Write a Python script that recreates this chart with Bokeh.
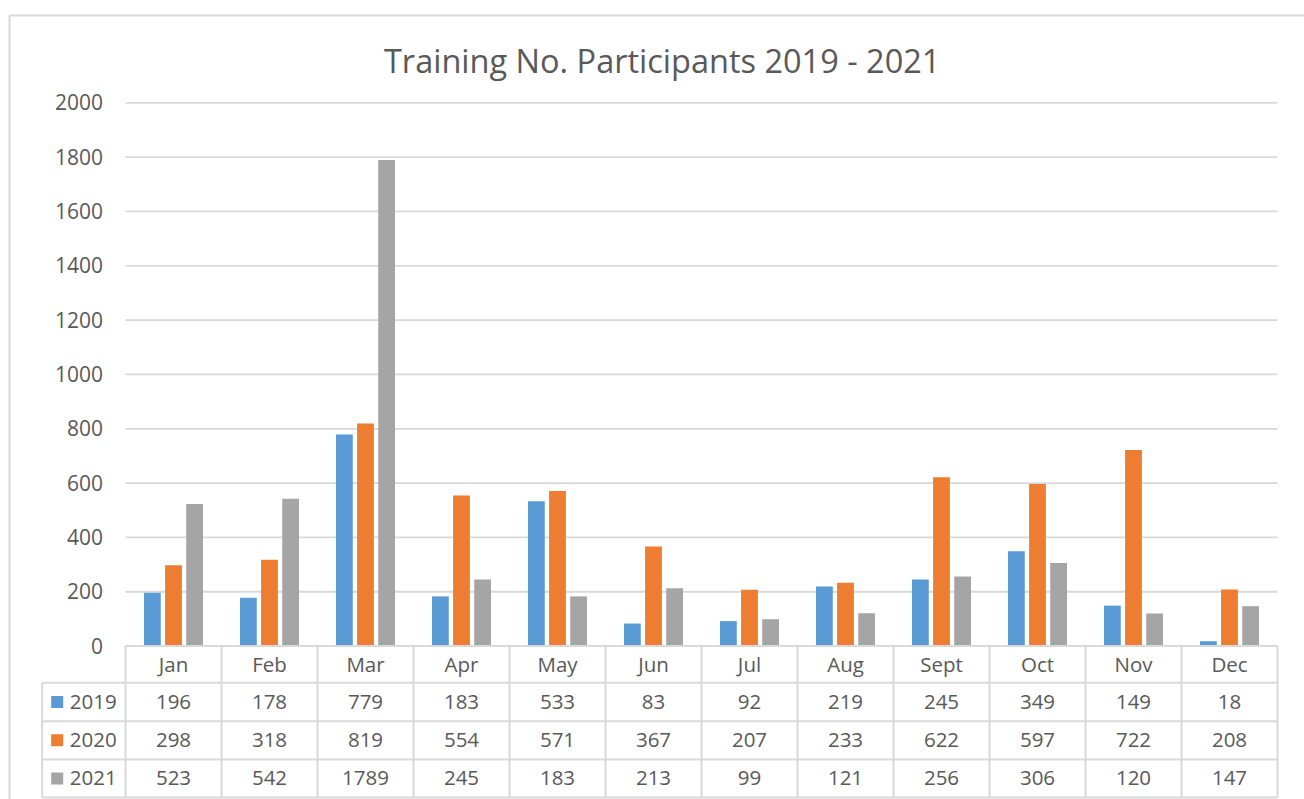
import numpy as np
from bokeh.plotting import figure
from bokeh.models import Range1d
from bokeh.core.properties import value
from bokeh.embed import file_html
from bokeh.resources import INLINE

# ---------------- data ----------------
months = ["Jan", "Feb", "Mar", "Apr", "May", "Jun", "Jul", "Aug", "Sept", "Oct", "Nov", "Dec"]
years = ["2019", "2020", "2021"]
v2019 = [196, 178, 779, 183, 533, 83, 92, 219, 245, 349, 149, 18]
v2020 = [298, 318, 819, 554, 571, 367, 207, 233, 622, 597, 722, 208]
v2021 = [523, 542, 1789, 245, 183, 213, 99, 121, 256, 306, 120, 147]
y_ticks = [0, 200, 400, 600, 800, 1000, 1200, 1400, 1600, 1800, 2000]
title_text = "Training No. Participants 2019 - 2021"

# ---------------- styles / layout ----------------
series = [v2019, v2020, v2021]
colors = ["#5B9BD5", "#ED7D31", "#A5A5A5"]
TEXT = "#595959"
LINE = "#D9D9D9"
FONT = value("Open Sans")
TABLE_FS = value("20.5px")

W, H = 1304, 799
PAGE = 0
COL_W = 96.0
X0 = 125.0           # left edge of first month column (page px)
X_END = X0 + 12 * COL_W
Y0 = 645.6           # value 0 (page px)
K = 543.3 / 2000.0   # px per unit
SHIFT_S = 8.0        # baseline correction for small texts
SHIFT_T = 11.0       # baseline correction for title


def fx(px):
    return (px - (X0 + COL_W / 2)) / COL_W


def fy(py):
    return (Y0 - py) / K


p = figure(width=W, height=H,
           x_range=Range1d(fx(PAGE), fx(PAGE + W)),
           y_range=Range1d(fy(PAGE + H), fy(PAGE)),
           x_axis_type=None, y_axis_type=None,
           toolbar_location=None, output_backend="svg",
           min_border=0, outline_line_color=None)
p.background_fill_color = "white"
p.border_fill_color = "white"

# outer chart border
p.segment(x0=[fx(9), fx(9)], y0=[fy(15), fy(15)], x1=[fx(9), fx(1310)], y1=[fy(805), fy(15)],
          line_color=LINE, line_width=2)

# gridlines
gt = y_ticks[1:]
p.segment(x0=[fx(X0)] * len(gt), x1=[fx(X_END)] * len(gt), y0=gt, y1=gt,
          line_color=LINE, line_width=1.8)

# y tick labels
p.text(x=[fx(102.5)] * len(y_ticks), y=[fy(Y0 - K * t + 7.5 - SHIFT_S) for t in y_ticks],
       text=[str(t) for t in y_ticks], text_align="right", text_baseline="alphabetic",
       text_font=FONT, text_font_size=value("21px"), text_color=TEXT)

# bars
offsets = [-0.22, 0.0, 0.22]
xs = np.arange(len(months))
for vals, off, c in zip(series, offsets, colors):
    p.vbar(x=xs + off, bottom=0, top=vals, width=0.175, fill_color=c, line_color=None)

# title
p.text(x=[fx(661.7)], y=[fy(71 - SHIFT_T)], text=[title_text], text_align="center",
       text_baseline="alphabetic", text_font=FONT, text_font_size=value("32.5px"),
       text_color=TEXT)

# ---------------- data table ----------------
row_edges = [Y0, 682.3, 720.7, 759.0, 797.0]
LEG_X = 41.7
# horizontal lines
hx0 = [fx(X0)] + [fx(LEG_X)] * 4
p.segment(x0=hx0, x1=[fx(X_END)] * 5, y0=[fy(r) for r in row_edges],
          y1=[fy(r) for r in row_edges], line_color=LINE, line_width=2)
# vertical lines
vx = [fx(X0 + COL_W * k) for k in range(13)]
p.segment(x0=vx, x1=vx, y0=[fy(Y0)] * 13, y1=[fy(797.0)] * 13, line_color=LINE, line_width=2)
p.segment(x0=[fx(LEG_X)], x1=[fx(LEG_X)], y0=[fy(682.3)], y1=[fy(797.0)],
          line_color=LINE, line_width=2)

# month header
p.text(x=xs, y=[fy(671.7 - SHIFT_S)] * 12, text=months, text_align="center",
       text_baseline="alphabetic", text_font=FONT, text_font_size=TABLE_FS,
       text_color=TEXT)

row_base = [709.0, 747.0, 785.7]
row_mid = [701.5, 739.8, 778.0]
for vals, c, yr, rb, rm in zip(series, colors, years, row_base, row_mid):
    p.text(x=xs, y=[fy(rb - SHIFT_S)] * 12, text=[str(v) for v in vals], text_align="center",
           text_baseline="alphabetic", text_font=FONT, text_font_size=TABLE_FS,
           text_color=TEXT)
    p.scatter(x=[fx(56.7)], y=[fy(rm)], marker="square", size=12, fill_color=c, line_color=None)
    p.text(x=[fx(69.3)], y=[fy(rb - SHIFT_S)], text=[yr], text_align="left",
           text_baseline="alphabetic", text_font=FONT, text_font_size=TABLE_FS,
           text_color=TEXT)

open("out.html", "w").write(file_html(p, INLINE))
